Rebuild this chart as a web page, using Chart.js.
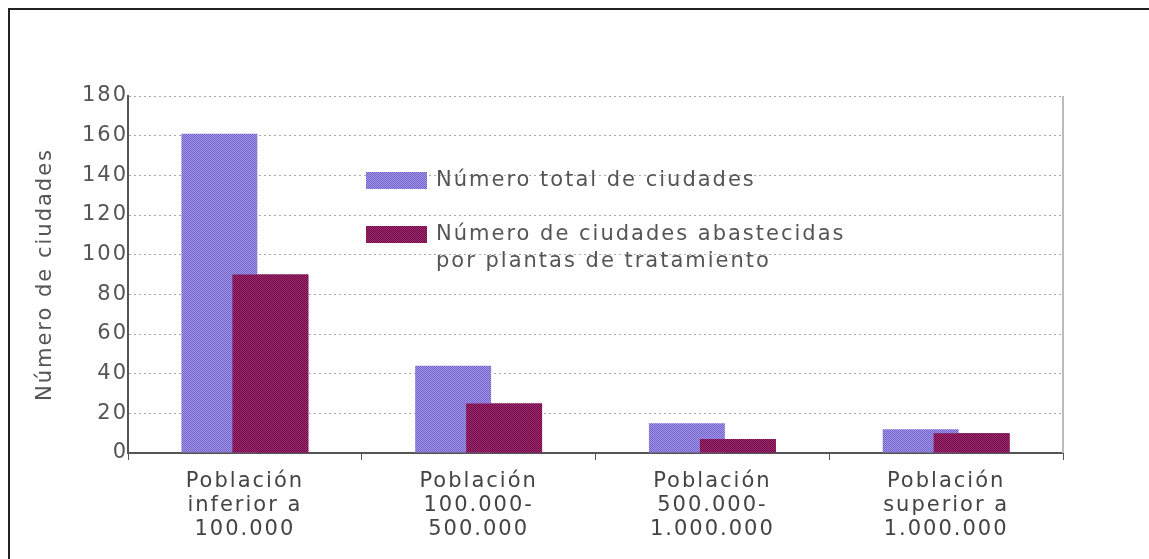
<!DOCTYPE html>
<html>
<head>
<meta charset="utf-8">
<script src="https://cdn.jsdelivr.net/npm/chart.js@4/dist/chart.umd.min.js"></script>
<style>
    html, body { margin: 0; padding: 0; background: #fff; overflow: hidden; }
    #wrap { position: relative; width: 1149px; height: 559px; }
    #frame { position: absolute; left: 8px; top: 8px; width: 1200px; height: 600px; border-top: 2px solid #222; border-left: 2px solid #222; }
    canvas { position: absolute; left: 0; top: 0; }
</style>
</head>
<body>
<div id="wrap">
    <div id="frame"></div>
    <canvas id="chart" width="1149" height="559"></canvas>
</div>
<script>
const categories = [
    ['Población', 'inferior a', '100.000'],
    ['Población', '100.000-', '500.000'],
    ['Población', '500.000-', '1.000.000'],
    ['Población', 'superior a', '1.000.000']
];
const totalCities = [161, 44, 15, 12];
const treatedCities = [90, 25, 7, 10];
const seriesLabels = ['Número total de ciudades', 'Número de ciudades abastecidas\npor plantas de tratamiento'];
const yTitle = 'Número de ciudades';
const yMin = 0, yMax = 180, yStep = 20;

const FONT = '"DejaVu Sans", sans-serif';
const SPACING = '2px';

// 2x2 checker to imitate the dithered fill
function checker(c1, c2) {
    const p = document.createElement('canvas');
    p.width = 2; p.height = 2;
    const g = p.getContext('2d');
    g.fillStyle = c1; g.fillRect(0, 0, 2, 2);
    g.fillStyle = c2; g.fillRect(1, 0, 1, 1); g.fillRect(0, 1, 1, 1);
    return g.createPattern(p, 'repeat');
}
const bluePattern = checker('#7262cf', '#a598e2');
const redPattern = checker('#6a0a46', '#a42c6e');

const spacingPlugin = {
    id: 'spacing',
    beforeUpdate(chart) { chart.ctx.letterSpacing = SPACING; },
    beforeDraw(chart) { chart.ctx.letterSpacing = SPACING; }
};

// red bars overlap the blue ones, legend sits inside the plot, light right edge
const innerLegend = {
    id: 'innerLegend',
    afterDatasetsDraw(chart) {
        const ctx = chart.ctx;
        const a = chart.chartArea;
        chart.getDatasetMeta(1).controller.draw();

        ctx.save();
        ctx.strokeStyle = '#bbb';
        ctx.lineWidth = 2;
        ctx.beginPath();
        ctx.moveTo(a.right, a.top);
        ctx.lineTo(a.right, a.bottom);
        ctx.stroke();

        ctx.font = '21px ' + FONT;
        ctx.textBaseline = 'middle';
        const x0 = a.left + 238;
        const rows = [a.top + 85, a.top + 139];
        chart.data.datasets.forEach((ds, i) => {
            const y = rows[i];
            ctx.fillStyle = ds.backgroundColor;
            ctx.fillRect(x0, y - 9, 61, 17);
            ctx.fillStyle = '#555';
            ds.label.split('\n').forEach((line, j) => {
                ctx.fillText(line, x0 + 70, y + j * 27);
            });
        });
        ctx.restore();
    }
};

new Chart(document.getElementById('chart'), {
    type: 'bar',
    data: {
        labels: categories,
        datasets: [
            { label: seriesLabels[0], data: totalCities, backgroundColor: bluePattern },
            { label: seriesLabels[1], data: treatedCities, backgroundColor: redPattern }
        ]
    },
    options: {
        responsive: false,
        animation: false,
        devicePixelRatio: 1,
        categoryPercentage: 0.436,
        barPercentage: 1.49,
        layout: { padding: { top: 96, right: 86, left: 0, bottom: 0 } },
        plugins: {
            legend: { display: false },
            tooltip: { enabled: false }
        },
        scales: {
            x: {
                afterFit: s => { s.height = 106; },
                grid: { offset: true, drawOnChartArea: false, tickLength: 7, color: '#555' },
                border: { color: '#555', width: 2 },
                ticks: { color: '#444', padding: 10, font: { family: FONT, size: 21, lineHeight: 1.143 } }
            },
            y: {
                min: yMin,
                max: yMax,
                afterFit: s => { s.width = 128; },
                ticks: { stepSize: yStep, color: '#555', padding: 0, font: { family: FONT, size: 21 } },
                grid: { color: '#a8a8a8', drawTicks: false },
                border: { color: '#555', width: 2, dash: [2, 3] },
                title: { display: true, text: yTitle, color: '#555', padding: { top: 33 }, font: { family: FONT, size: 21 } }
            }
        }
    },
    plugins: [spacingPlugin, innerLegend]
});
</script>
</body>
</html>
